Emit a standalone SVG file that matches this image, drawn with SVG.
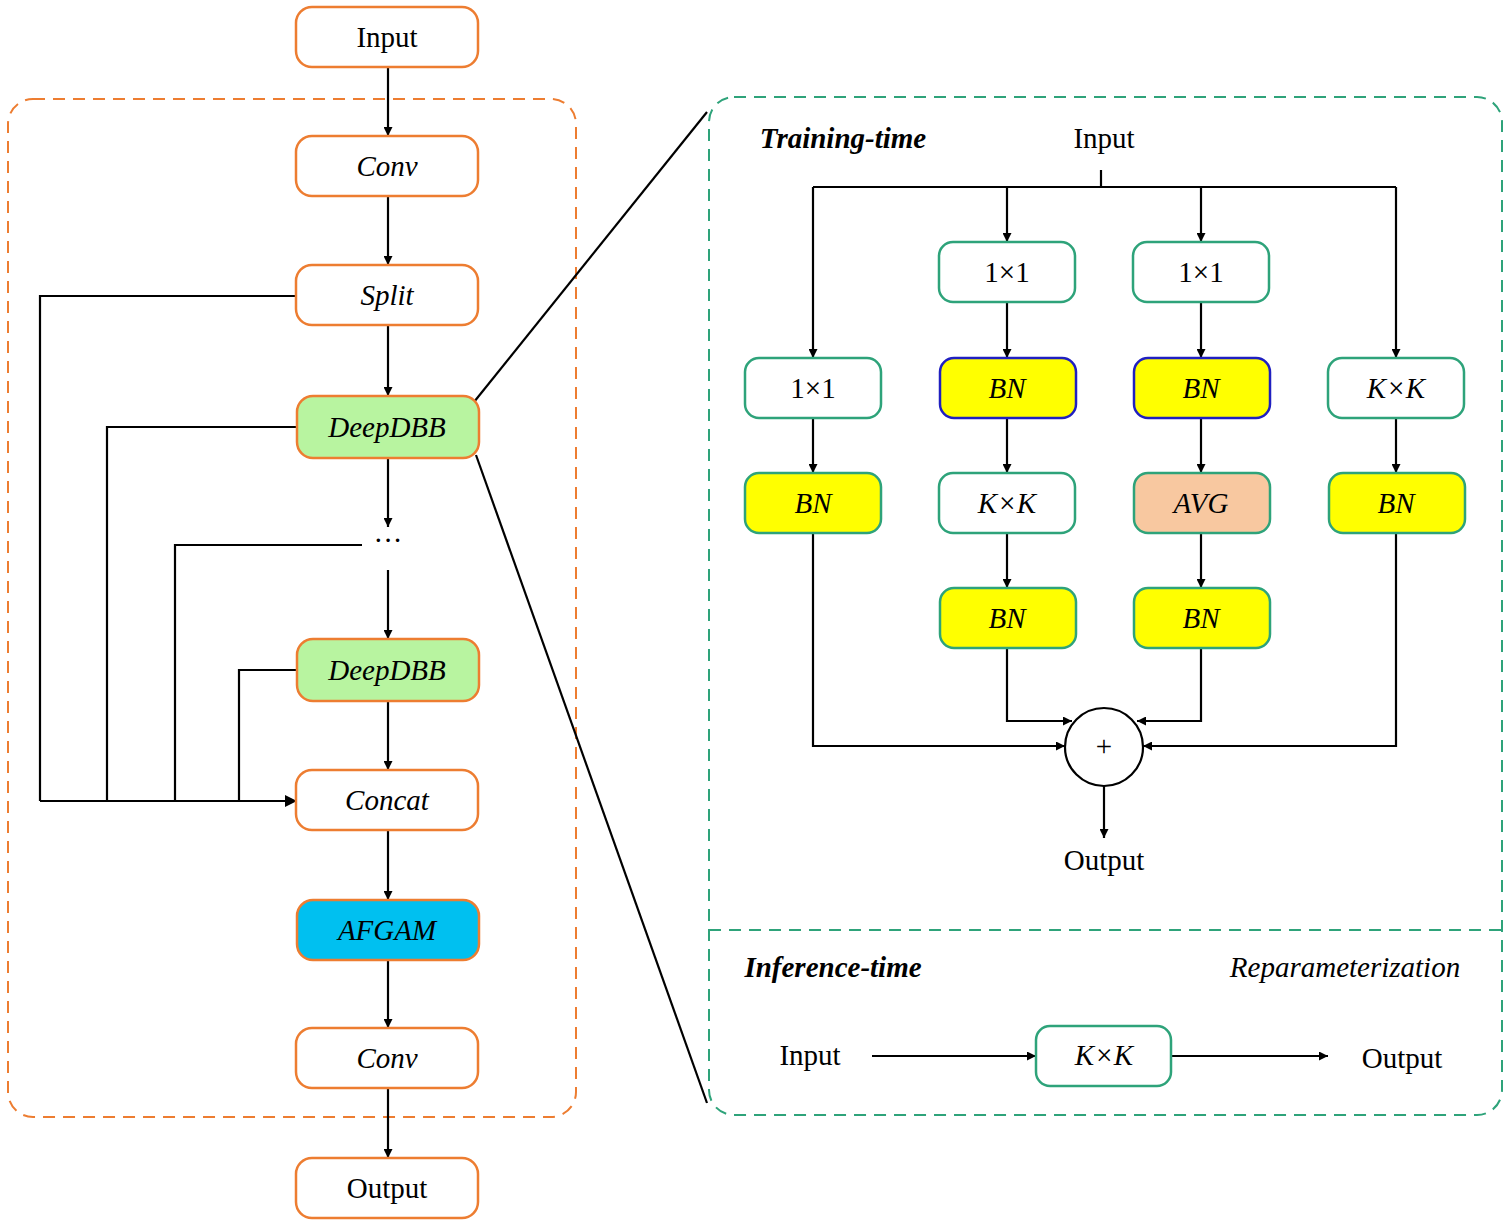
<svg xmlns="http://www.w3.org/2000/svg" width="1510" height="1226" viewBox="0 0 1510 1226">
<style>
.o{fill:#fff;stroke:#ED7D31;stroke-width:2.5}
.g{fill:#fff;stroke:#2EA37A;stroke-width:2.5}
.t{font-family:"Liberation Serif",serif;font-size:29px;text-anchor:middle;dominant-baseline:central;fill:#000}
.i{font-style:italic}
.b{font-weight:bold}
.l{fill:none;stroke:#000;stroke-width:2.2}
</style>
<defs><marker id="a" viewBox="0 0 10 10" refX="10" refY="5" markerWidth="9" markerHeight="9" markerUnits="userSpaceOnUse" orient="auto"><path d="M0,0L10,5L0,10z" fill="#000"/></marker>
<marker id="a2" viewBox="0 0 10 10" refX="10" refY="5" markerWidth="12" markerHeight="12" markerUnits="userSpaceOnUse" orient="auto"><path d="M0,0L10,5L0,10z" fill="#000"/></marker></defs>
<rect x="8" y="99" width="568" height="1018" rx="25" fill="none" stroke="#ED7D31" stroke-width="2" stroke-dasharray="12,8"/>
<rect x="709" y="97" width="793" height="1018" rx="25" fill="none" stroke="#2EA37A" stroke-width="2" stroke-dasharray="12,8"/>
<line x1="709" y1="930" x2="1502" y2="930" stroke="#2EA37A" stroke-width="2" stroke-dasharray="12,8"/>
<g id="connectors" class="l">
<line x1="474" y1="402" x2="707" y2="112"/><line x1="476" y1="455" x2="707" y2="1103"/>
<line x1="388" y1="67" x2="388" y2="136" marker-end="url(#a)"/>
<line x1="388" y1="196" x2="388" y2="265" marker-end="url(#a)"/>
<line x1="388" y1="325" x2="388" y2="396" marker-end="url(#a)"/>
<line x1="388" y1="458" x2="388" y2="527" marker-end="url(#a)"/>
<line x1="388" y1="570" x2="388" y2="639" marker-end="url(#a)"/>
<line x1="388" y1="701" x2="388" y2="770" marker-end="url(#a)"/>
<line x1="388" y1="830" x2="388" y2="900" marker-end="url(#a)"/>
<line x1="388" y1="960" x2="388" y2="1028" marker-end="url(#a)"/>
<line x1="388" y1="1088" x2="388" y2="1158" marker-end="url(#a)"/>
<polyline points="296,296 40,296 40,801"/>
<polyline points="296,427 107,427 107,801"/>
<polyline points="362,545 175,545 175,801"/>
<polyline points="296,670 239,670 239,801"/>
<line x1="40" y1="801" x2="297" y2="801" marker-end="url(#a2)"/>
<line x1="1101" y1="170" x2="1101" y2="187"/>
<line x1="813" y1="187" x2="1396" y2="187"/>
<line x1="813" y1="187" x2="813" y2="358" marker-end="url(#a)"/>
<line x1="1396" y1="187" x2="1396" y2="358" marker-end="url(#a)"/>
<line x1="1007" y1="187" x2="1007" y2="242" marker-end="url(#a)"/>
<line x1="1201" y1="187" x2="1201" y2="242" marker-end="url(#a)"/>
<line x1="1007" y1="302" x2="1007" y2="358" marker-end="url(#a)"/>
<line x1="1201" y1="302" x2="1201" y2="358" marker-end="url(#a)"/>
<line x1="813" y1="418" x2="813" y2="473" marker-end="url(#a)"/>
<line x1="1007" y1="418" x2="1007" y2="473" marker-end="url(#a)"/>
<line x1="1201" y1="418" x2="1201" y2="473" marker-end="url(#a)"/>
<line x1="1396" y1="418" x2="1396" y2="473" marker-end="url(#a)"/>
<line x1="1007" y1="533" x2="1007" y2="588" marker-end="url(#a)"/>
<line x1="1201" y1="533" x2="1201" y2="588" marker-end="url(#a)"/>
<polyline points="813,533 813,746 1065,746" marker-end="url(#a)"/>
<polyline points="1396,533 1396,746 1143,746" marker-end="url(#a)"/>
<polyline points="1007,648 1007,721 1072,721" marker-end="url(#a)"/>
<polyline points="1201,648 1201,721 1137,721" marker-end="url(#a)"/>
<line x1="1104" y1="786" x2="1104" y2="838" marker-end="url(#a)"/>
<line x1="872" y1="1056" x2="1036" y2="1056" marker-end="url(#a)"/>
<line x1="1171" y1="1056" x2="1328" y2="1056" marker-end="url(#a)"/>
</g>
<g id="n-input"><rect class="o" x="296" y="7" width="182" height="60" rx="16"/><text class="t" x="387" y="37">Input</text></g>
<g id="n-conv1"><rect class="o" x="296" y="136" width="182" height="60" rx="16"/><text class="t i" x="387" y="166">Conv</text></g>
<g id="n-split"><rect class="o" x="296" y="265" width="182" height="60" rx="16"/><text class="t i" x="387" y="295">Split</text></g>
<g id="n-ddbb1"><rect class="o" x="297" y="396" width="182" height="62" rx="16" fill="#B8F4A0" style="fill:#B8F4A0"/><text class="t i" x="387" y="427">DeepDBB</text></g>
<g id="n-dots"><text class="t" x="388" y="540">···</text></g>
<g id="n-ddbb2"><rect class="o" x="297" y="639" width="182" height="62" rx="16" style="fill:#B8F4A0"/><text class="t i" x="387" y="670">DeepDBB</text></g>
<g id="n-concat"><rect class="o" x="296" y="770" width="182" height="60" rx="16"/><text class="t i" x="387" y="800">Concat</text></g>
<g id="n-afgam"><rect class="o" x="297" y="900" width="182" height="60" rx="16" style="fill:#00C0F0"/><text class="t i" x="387" y="930">AFGAM</text></g>
<g id="n-conv2"><rect class="o" x="296" y="1028" width="182" height="60" rx="16"/><text class="t i" x="387" y="1058">Conv</text></g>
<g id="n-output"><rect class="o" x="296" y="1158" width="182" height="60" rx="16"/><text class="t" x="387" y="1188">Output</text></g>
<g id="labels">
<text class="t i b" x="843" y="138">Training-time</text>
<text class="t" x="1104" y="138">Input</text>
<text class="t" x="1104" y="860">Output</text>
<text class="t i b" x="833" y="967">Inference-time</text>
<text class="t i" x="1345" y="967">Reparameterization</text>
<text class="t" x="810" y="1055">Input</text>
<text class="t" x="1402" y="1058">Output</text>
</g>
<g id="r-11a"><rect class="g" x="939" y="242" width="136" height="60" rx="14"/><text class="t" x="1007" y="272">1×1</text></g>
<g id="r-11b"><rect class="g" x="1133" y="242" width="136" height="60" rx="14"/><text class="t" x="1201" y="272">1×1</text></g>
<g id="r-11c"><rect class="g" x="745" y="358" width="136" height="60" rx="14"/><text class="t" x="813" y="388">1×1</text></g>
<g id="r-bn2"><rect x="940" y="358" width="136" height="60" rx="14" fill="#FFFF00" stroke="#2020C0" stroke-width="2.5"/><text class="t i" x="1007" y="388">BN</text></g>
<g id="r-bn3"><rect x="1134" y="358" width="136" height="60" rx="14" fill="#FFFF00" stroke="#2020C0" stroke-width="2.5"/><text class="t i" x="1201" y="388">BN</text></g>
<g id="r-kk4"><rect class="g" x="1328" y="358" width="136" height="60" rx="14"/><text class="t i" x="1396" y="388">K×K</text></g>
<g id="r-bn1"><rect class="g" x="745" y="473" width="136" height="60" rx="14" style="fill:#FFFF00"/><text class="t i" x="813" y="503">BN</text></g>
<g id="r-kk2"><rect class="g" x="939" y="473" width="136" height="60" rx="14"/><text class="t i" x="1007" y="503">K×K</text></g>
<g id="r-avg"><rect class="g" x="1134" y="473" width="136" height="60" rx="14" style="fill:#F8C8A0"/><text class="t i" x="1201" y="503">AVG</text></g>
<g id="r-bn4"><rect class="g" x="1329" y="473" width="136" height="60" rx="14" style="fill:#FFFF00"/><text class="t i" x="1396" y="503">BN</text></g>
<g id="r-bn2b"><rect class="g" x="940" y="588" width="136" height="60" rx="14" style="fill:#FFFF00"/><text class="t i" x="1007" y="618">BN</text></g>
<g id="r-bn3b"><rect class="g" x="1134" y="588" width="136" height="60" rx="14" style="fill:#FFFF00"/><text class="t i" x="1201" y="618">BN</text></g>
<g id="r-plus"><circle cx="1104" cy="747" r="39" fill="#fff" stroke="#000" stroke-width="2.2"/><text class="t" x="1104" y="746" font-size="34">+</text></g>
<g id="r-kkinf"><rect class="g" x="1036" y="1026" width="135" height="60" rx="14"/><text class="t i" x="1104" y="1055">K×K</text></g>
</svg>
